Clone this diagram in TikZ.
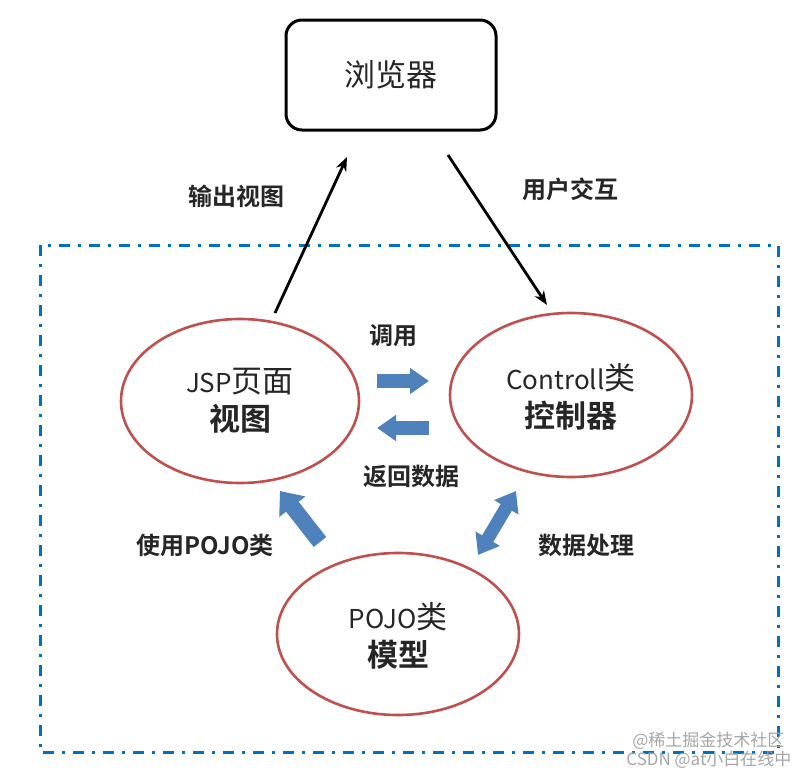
\documentclass[tikz,border=0pt]{standalone}
\usepackage{fontspec}
\newfontfamily\cjk{Noto Sans CJK SC}
\newfontfamily\cjkb{Noto Sans CJK SC Bold}
\usetikzlibrary{arrows.meta}
\definecolor{ellred}{RGB}{192,80,77}
\definecolor{arrblue}{RGB}{79,129,189}
\definecolor{dashblue}{RGB}{0,112,192}
\newcommand\bigc[1]{{\fontsize{31}{34}\selectfont #1}}
\begin{document}
\begin{tikzpicture}[x=1pt,y=-1pt,
  ell/.style={draw=ellred,line width=2.6pt},
  elltext/.style={font=\cjk\fontsize{26}{38}\selectfont,align=center,text=black!85},
  lbl/.style={font=\cjkb\fontsize{24}{26}\selectfont,text=black!85},
  blk/.style={draw=arrblue,line width=14pt,-{Triangle[length=19pt,width=25pt]}},
  blkd/.style={draw=arrblue,line width=13pt,{Triangle[length=19pt,width=27pt]}-{Triangle[length=19pt,width=27pt]}},
  link/.style={draw=black,line width=2.8pt,-{Stealth[length=14pt,width=11pt]}},
  wm/.style={font=\cjk\fontsize{17}{19}\selectfont,text=black!35}]
\useasboundingbox (0,0) rectangle (807,774);
% container
\draw[dashblue,line width=3pt,dash pattern=on 11pt off 8pt on 3pt off 8pt] (40,245) rectangle (778,752);
% browser
\node[draw=black,line width=3pt,rounded corners=16pt,minimum width=210pt,minimum height=110pt,
  font=\cjk\fontsize{31}{34}\selectfont,text=black!85] (br) at (391,75) {浏览器};
% ellipses
\draw[ell] (240,401) ellipse [x radius=119pt,y radius=82pt];
\node[elltext] (jsp) at (240,401) {JSP\bigc{页面}\\{\cjkb\bigc{视图}}};
\draw[ell] (571,395) ellipse [x radius=121pt,y radius=82pt];
\node[elltext] (ctl) at (571,397) {Controll\bigc{类}\\{\cjkb\bigc{控制器}}};
\draw[ell] (398,634) ellipse [x radius=121pt,y radius=81pt];
\node[elltext] (pojo) at (398,636) {POJO\bigc{类}\\{\cjkb\bigc{模型}}};
% connector end points
\coordinate (a1s) at (275,313);
\coordinate (a1e) at (347,157);
\coordinate (a2s) at (448,155);
\coordinate (a2e) at (547,305);
\draw[link] (a1s) -- (a1e);
\draw[link] (a2s) -- (a2e);
\node[lbl] (l1) at (236,196) {输出视图};
\node[lbl] (l2) at (570,189) {用户交互};
% block arrows
\coordinate (c1s) at (377,381);
\coordinate (c1e) at (429,381);
\coordinate (c2s) at (429,428);
\coordinate (c2e) at (377,428);
\draw[blk] (c1s) -- (c1e);
\draw[blk] (c2s) -- (c2e);
\node[lbl] (l3) at (393,336) {调用};
\node[lbl] (l4) at (411,476) {返回数据};
\coordinate (c3s) at (320,542);
\coordinate (c3e) at (280,491);
\draw[blk,line width=16pt,-{Triangle[length=20pt,width=32pt]}] (c3s) -- (c3e);
\coordinate (c4s) at (478,555);
\coordinate (c4e) at (516,491);
\draw[blkd] (c4s) -- (c4e);
\node[lbl] (l5) at (205,545) {使用POJO类};
\node[lbl] (l6) at (586,545) {数据处理};
% watermarks
\node[wm,anchor=east] (w1) at (788,741) {@稀土掘金技术社区};
\node[wm,anchor=east] (w2) at (795,760) {CSDN @at小白在线中};
\end{tikzpicture}
\end{document}
